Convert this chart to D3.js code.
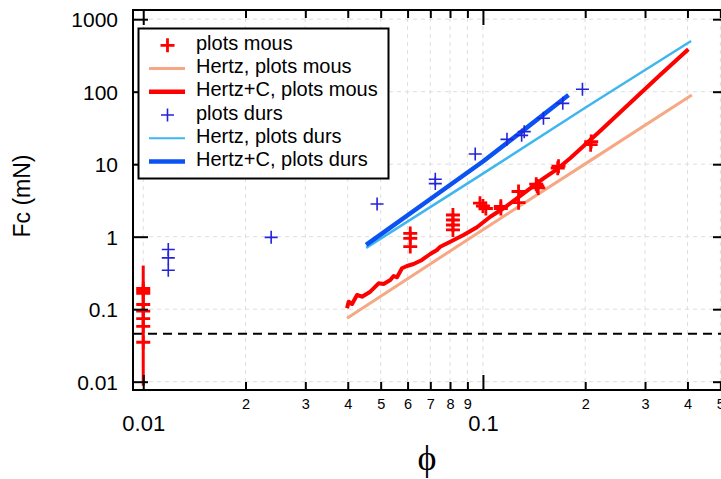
<!DOCTYPE html>
<html><head><meta charset="utf-8">
<script src="https://cdn.jsdelivr.net/npm/d3@7"></script>
<style>body{margin:0;background:#fff}svg{display:block}</style>
</head><body>
<svg id="c" width="721" height="479"></svg>
<script>
// ---- data ----
const xMajorTicks = [0.01, 0.1];
const xMinorTicks = [0.02,0.03,0.04,0.05,0.06,0.07,0.08,0.09,0.2,0.3,0.4,0.5];
const xMinorLabels = ["2","3","4","5","6","7","8","9","2","3","4","5"];
const yTicks = [0.01, 0.1, 1, 10, 100, 1000];
const yTickLabels = ["0.01","0.1","1","10","100","1000"];

const mousX = [0.01,0.01,0.01,0.01,0.01,0.01,0.01,0.01,
  0.0611,0.0611,0.0611, 0.0816,0.0816,0.0816,0.0816,
  0.098,0.100,0.102, 0.1129,0.1129, 0.1273,0.1273,
  0.1435,0.1445,0.1455, 0.1669,0.1660, 0.2083,0.2075];
const mousY = [0.193,0.179,0.165,0.116,0.094,0.074,0.058,0.035,
  1.11,0.95,0.73, 1.99,1.70,1.45,1.24,
  2.90,2.65,2.45, 2.62,2.45, 4.2,2.95,
  5.3,5.0,4.7, 9.4,8.8, 20.5,18.6];
const mousRangeX = [0.01, 0.01];
const mousRangeY = [0.0088, 0.40];

const dursX = [0.01185,0.01185,0.01185,0.0238,0.0488,0.0724,0.0724,0.0949,0.1177,0.130,0.1323,0.1507,0.1718,0.1963];
const dursY = [0.665,0.51,0.345,0.98,2.83,6.2,5.4,13.8,22,25,28.1,43,69,108];

const hertzMousX = [0.0398,0.1,0.2,0.412];
const hertzMousY = [0.075,1.25,10.1,90];
const hertzCMousX = [0.03981,0.04024,0.04118,0.04260,0.04406,0.04660,0.04930,0.05100,0.05338,0.05459,0.05586,0.05778,0.05977,0.06250,0.06615,0.06998,0.07322,0.07488,0.08014,0.08769,0.09603,0.1051,0.1150,0.1259,0.1378,0.1508,0.1651,0.1806,0.2213,0.2711,0.3323,0.4024];
const hertzCMousY = [0.1029,0.1269,0.1179,0.1570,0.1487,0.1743,0.2277,0.2227,0.2528,0.2870,0.2754,0.3665,0.3943,0.4202,0.4772,0.5771,0.6555,0.7278,0.8532,1.055,1.348,1.887,2.465,3.386,4.652,6.391,8.506,12.06,28.7,69.9,169.9,384.5];
const hertzDursX = [0.0453,0.1,0.2,0.41];
const hertzDursY = [0.70,7.4,60,500];
const hertzCDursX = [0.0453,0.0724,0.1,0.1323,0.1786];
const hertzCDursY = [0.77,3.7,10.9,30,90];
const thresholdY = 0.046;

const legendLabels = ["plots mous","Hertz, plots mous","Hertz+C, plots mous","plots durs","Hertz, plots durs","Hertz+C, plots durs"];

// ---- styles ----
const C = {red:"#ff0000", salmon:"#f6a884", lblue:"#3fb6ee", dblue:"#0b52f2", bplus:"#2323dc"};
const FONT = "'Liberation Sans', Arial, sans-serif";

const svg = d3.select("#c");
const L = 133, R = 728, T = 10, B = 390;
const x = d3.scaleLog().domain([0.00933, 0.5265]).range([L, R]);
const y = d3.scaleLog().domain([0.00768, 1339]).range([B, T]);

// grid
const grid = svg.append("g").attr("stroke","#dedede").attr("stroke-width",1).attr("stroke-dasharray","4,4");
xMajorTicks.concat(xMinorTicks).forEach(v=>{
  grid.append("line").attr("x1",x(v)).attr("x2",x(v)).attr("y1",T).attr("y2",B);
});
yTicks.forEach(v=>{
  grid.append("line").attr("x1",L).attr("x2",R).attr("y1",y(v)).attr("y2",y(v));
});

// threshold dashed line
svg.append("line").attr("x1",L).attr("x2",R).attr("y1",y(thresholdY)).attr("y2",y(thresholdY))
  .attr("stroke","#000").attr("stroke-width",2).attr("stroke-dasharray","9,6");

const line = d3.line().x(d=>x(d[0])).y(d=>y(d[1]));
const zip = (a,b)=>a.map((v,i)=>[v,b[i]]);
function drawLine(xs, ys, color, w){
  svg.append("path").datum(zip(xs,ys)).attr("d",line).attr("fill","none")
    .attr("stroke",color).attr("stroke-width",w).attr("stroke-linejoin","round");
}
drawLine(hertzMousX, hertzMousY, C.salmon, 3);
drawLine(hertzDursX, hertzDursY, C.lblue, 2.5);
drawLine(hertzCDursX, hertzCDursY, C.dblue, 4.5);
drawLine(hertzCMousX, hertzCMousY, C.red, 4);
drawLine(mousRangeX, mousRangeY, C.red, 3);

function plus(g, cx, cy, h, color, w){
  g.append("path").attr("d",`M${cx-h},${cy}H${cx+h}M${cx},${cy-h}V${cy+h}`)
   .attr("stroke",color).attr("stroke-width",w).attr("fill","none");
}
const mk = svg.append("g");
zip(dursX,dursY).forEach(d=>plus(mk, x(d[0]), y(d[1]), 6.5, C.bplus, 1.6));
zip(mousX,mousY).forEach(d=>plus(mk, x(d[0]), y(d[1]), 7, C.red, 2.8));

// frame
svg.append("rect").attr("x",L).attr("y",T).attr("width",R-L).attr("height",B-T)
  .attr("fill","none").attr("stroke","#000").attr("stroke-width",2);

// axes
function styleAxis(g){ g.select(".domain").remove(); g.selectAll("line").attr("stroke","#000").attr("stroke-width",2); }
const bMaj = svg.append("g").attr("transform",`translate(0,${B})`)
  .call(d3.axisBottom(x).tickValues(xMajorTicks).tickSize(-15).tickFormat(d3.format("")));
styleAxis(bMaj);
bMaj.selectAll("text").attr("y",41).attr("dy",null).attr("font-family",FONT).attr("font-size",22).attr("fill","#000");
const bMin = svg.append("g").attr("transform",`translate(0,${B})`)
  .call(d3.axisBottom(x).tickValues(xMinorTicks).tickSize(-8).tickFormat((d,i)=>xMinorLabels[i]));
styleAxis(bMin);
bMin.selectAll("text").attr("y",19).attr("dy",null).attr("font-family",FONT).attr("font-size",14.5).attr("fill","#000");
const tMaj = svg.append("g").attr("transform",`translate(0,${T})`)
  .call(d3.axisTop(x).tickValues(xMajorTicks).tickSize(-15).tickFormat(""));
styleAxis(tMaj);
const tMin = svg.append("g").attr("transform",`translate(0,${T})`)
  .call(d3.axisTop(x).tickValues(xMinorTicks).tickSize(-8).tickFormat(""));
styleAxis(tMin);
const lAx = svg.append("g").attr("transform",`translate(${L},0)`)
  .call(d3.axisLeft(y).tickValues(yTicks).tickSize(-15).tickPadding(15).tickFormat((d,i)=>yTickLabels[i]));
styleAxis(lAx);
lAx.selectAll("text").attr("dy","0.36em").attr("font-family",FONT).attr("font-size",21).attr("fill","#000");
const rAx = svg.append("g").attr("transform",`translate(${R},0)`)
  .call(d3.axisRight(y).tickValues(yTicks).tickSize(-15).tickFormat(""));
styleAxis(rAx);

// titles
svg.append("text").attr("transform","translate(30,196) rotate(-90)").attr("text-anchor","middle")
  .attr("font-family",FONT).attr("font-size",23).text("Fc (mN)");
svg.append("text").attr("x",427).attr("y",470).attr("text-anchor","middle")
  .attr("font-family","'Liberation Serif','Times New Roman',serif").attr("font-size",36).text("\u03D5");

// legend
const lg = svg.append("g");
lg.append("rect").attr("x",138.5).attr("y",28.5).attr("width",250).attr("height",150)
  .attr("fill","#fff").attr("stroke","#000").attr("stroke-width",2);
const rows = [
  {t:"plus", c:C.red, w:2.8, h:7},
  {t:"line", c:C.salmon, w:3},
  {t:"line", c:C.red, w:4.5},
  {t:"plus", c:C.bplus, w:1.6, h:6.5},
  {t:"line", c:C.lblue, w:2},
  {t:"line", c:C.dblue, w:4.5}
];
rows.forEach((r,i)=>{
  const cy = 45.3 + i*23.25;
  if(r.t==="line") lg.append("line").attr("x1",149).attr("x2",185).attr("y1",cy).attr("y2",cy).attr("stroke",r.c).attr("stroke-width",r.w);
  else plus(lg, 167.5, cy, r.h, r.c, r.w);
  lg.append("text").attr("x",196).attr("y",cy+4.5).attr("font-family",FONT).attr("font-size",20).text(legendLabels[i]);
});
</script>
</body></html>
